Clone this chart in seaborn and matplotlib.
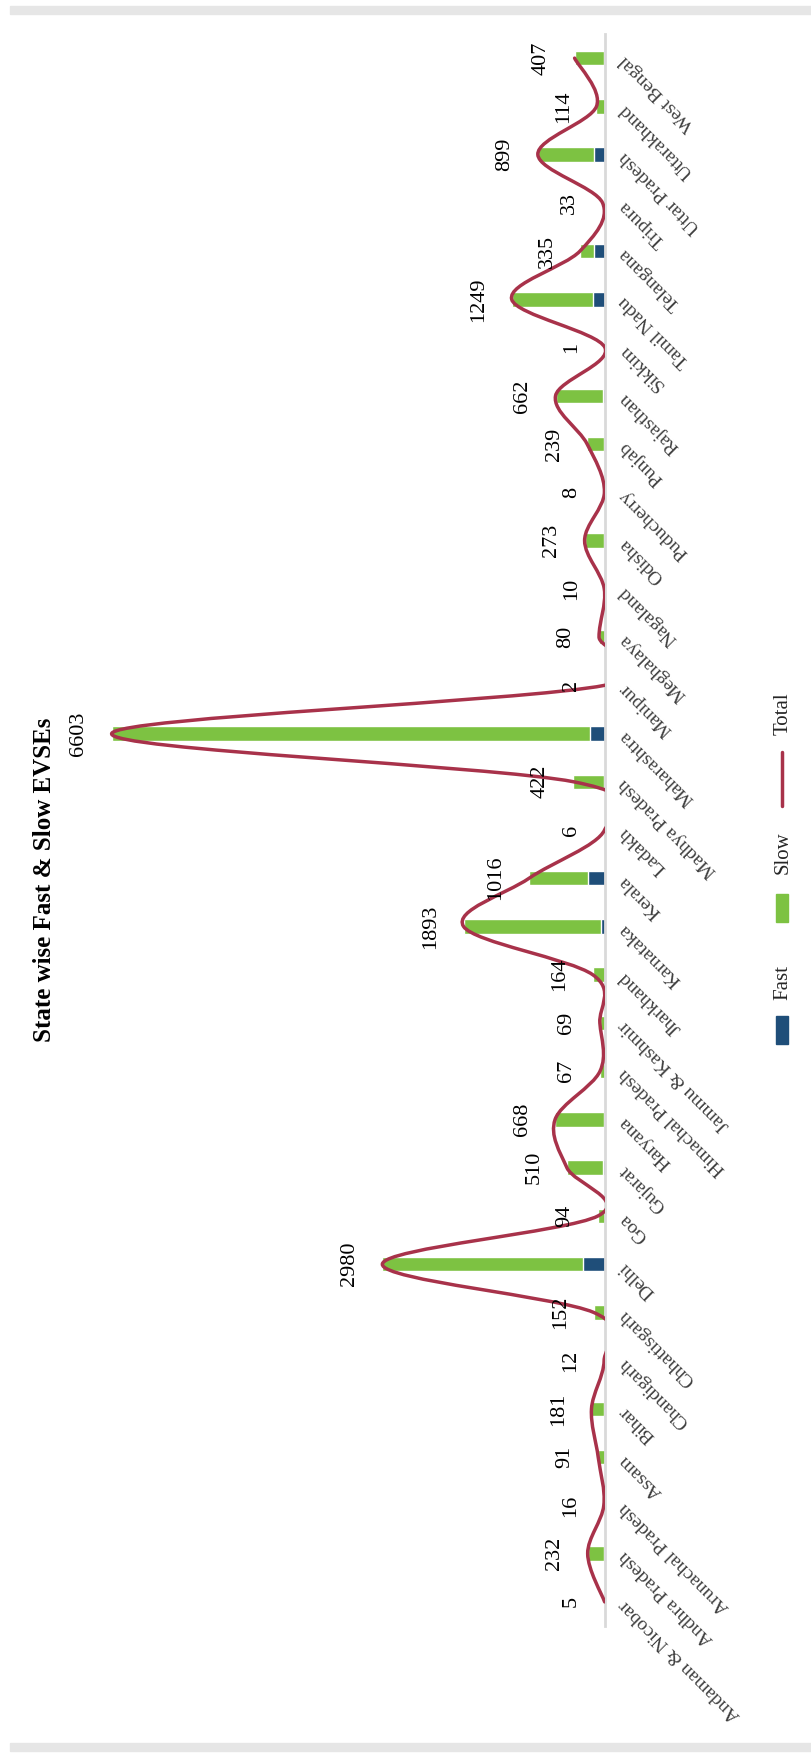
import numpy as np
import pandas as pd
import matplotlib
matplotlib.use("Agg")
import matplotlib.pyplot as plt
from matplotlib.path import Path
from matplotlib.patches import PathPatch, Rectangle
from matplotlib.lines import Line2D
import seaborn as sns

# ---------------- data ----------------
states = [
    "Andaman & Nicobar", "Andhra Pradesh", "Arunachal Pradesh", "Assam", "Bihar",
    "Chandigarh", "Chhattisgarh", "Delhi", "Goa", "Gujarat", "Haryana",
    "Himachal Pradesh", "Jammu & Kashmir", "Jharkhand", "Karnataka", "Kerala",
    "Ladakh", "Madhya Pradesh", "Maharashtra", "Manipur", "Meghalaya",
    "Nagaland", "Odisha", "Puducherry", "Punjab", "Rajasthan", "Sikkim",
    "Tamil Nadu", "Telangana", "Tripura", "Uttar Pradesh", "Uttarakhand",
    "West Bengal",
]
total_evse = [5, 232, 16, 91, 181, 12, 152, 2980, 94, 510, 668, 67, 69, 164,
              1893, 1016, 6, 422, 6603, 2, 80, 10, 273, 8, 239, 662, 1, 1249,
              335, 33, 899, 114, 407]
fast_evse = [0, 12, 0, 5, 8, 0, 6, 300, 4, 25, 20, 3, 3, 5,
             60, 230, 0, 15, 200, 0, 2, 0, 10, 0, 10, 25, 0, 160,
             150, 0, 150, 5, 15]
slow_evse = [t - f for t, f in zip(total_evse, fast_evse)]

title = "State wise Fast & Slow EVSEs"
legend_labels = ["Fast", "Slow", "Total"]

# ---------------- style ----------------
BLUE = "#1F4E79"
GREEN = "#7DC242"
LINE = "#A8324A"

sns.set_theme(style="white")
plt.rcParams["font.family"] = ["Liberation Serif", "DejaVu Serif"]

W, H = 811, 1755
fig = plt.figure(figsize=(W / 100, H / 100), dpi=100)
fig.patch.set_facecolor("white")

ax_left, ax_right, ax_top, ax_bot = 82, 605, 34, 1626
ax = fig.add_axes([ax_left / W, 1 - ax_bot / H,
                   (ax_right - ax_left) / W, (ax_bot - ax_top) / H])

df = pd.DataFrame({"State": states, "Total": total_evse,
                   "Fast": fast_evse, "Slow": slow_evse})

# stacked bars: Fast at the base, Slow on top of it (total length = Fast + Slow)
sns.barplot(data=df, x="Total", y="State", orient="h", color=GREEN,
            saturation=1, width=0.3, errorbar=None, ax=ax, zorder=2)
sns.barplot(data=df, x="Fast", y="State", orient="h", color=BLUE,
            saturation=1, width=0.3, errorbar=None, ax=ax, zorder=2)

n = len(states)
ys = np.arange(n, dtype=float)
xs = np.array(total_evse, dtype=float)

# smoothed "Total" line (Bezier segments through every data point)
verts = [(xs[0], ys[0])]
codes = [Path.MOVETO]
for i in range(n - 1):
    a = max(i - 1, 0)
    d = min(i + 2, n - 1)
    c1 = (xs[i] + (xs[i + 1] - xs[a]) / 6, ys[i] + (ys[i + 1] - ys[a]) / 6)
    c2 = (xs[i + 1] - (xs[d] - xs[i]) / 6, ys[i + 1] - (ys[d] - ys[i]) / 6)
    verts += [c1, c2, (xs[i + 1], ys[i + 1])]
    codes += [Path.CURVE4] * 3
ax.add_patch(PathPatch(Path(verts, codes), fill=False, edgecolor=LINE,
                       lw=2.5, zorder=3, capstyle="round", joinstyle="round"))

# data labels
for i, v in enumerate(total_evse):
    ax.annotate(str(v), xy=(v, i), xytext=(-33, 0), textcoords="offset pixels",
                rotation=90, ha="center", va="center", fontsize=16,
                color="black", annotation_clip=False, zorder=4)

ax.set_xlim(7000, 0)
ax.set_ylim(-0.5, n - 0.5)
ax.set_xlabel("")
ax.set_ylabel("")
ax.set_xticks([])
ax.yaxis.tick_right()
ax.set_yticks(ys)
ax.set_yticklabels(states, rotation=135, ha="right", va="center",
                   rotation_mode="anchor", fontsize=14, color="#404040")
ax.tick_params(axis="y", length=0, pad=12)
for s in ["top", "left", "bottom"]:
    ax.spines[s].set_visible(False)
ax.spines["right"].set_color("#D9D9D9")
ax.spines["right"].set_linewidth(2)
ax.set_facecolor("white")

# title
fig.text(45 / W, 1 - 880 / H, title, rotation=90, ha="center", va="center",
         fontsize=18, fontweight="bold", color="black")

# legend (rotated, drawn manually)
def fx(px):
    return px / W


def fy(py):
    return 1 - py / H

fig.add_artist(Rectangle((fx(776), fy(1044)), 12 / W, 28 / H,
                         transform=fig.transFigure, color=BLUE))
fig.text(fx(783), fy(982), legend_labels[0], rotation=90, ha="center",
         va="center", fontsize=15)
fig.add_artist(Rectangle((fx(776), fy(922)), 12 / W, 28 / H,
                         transform=fig.transFigure, color=GREEN))
fig.text(fx(783), fy(853), legend_labels[1], rotation=90, ha="center",
         va="center", fontsize=15)
fig.add_artist(Line2D([fx(782), fx(782)], [fy(806), fy(752)],
                      transform=fig.transFigure, color=LINE, lw=2.5))
fig.text(fx(783), fy(714), legend_labels[2], rotation=90, ha="center",
         va="center", fontsize=15)

# light page separators at top and bottom
fig.add_artist(Rectangle((10 / W, fy(14)), 1 - 10 / W, 8 / H,
                         transform=fig.transFigure, color="#E6E6E6"))
fig.add_artist(Rectangle((10 / W, fy(1751)), 1 - 10 / W, 8 / H,
                         transform=fig.transFigure, color="#E6E6E6"))

fig.savefig("out.png", dpi=100)
